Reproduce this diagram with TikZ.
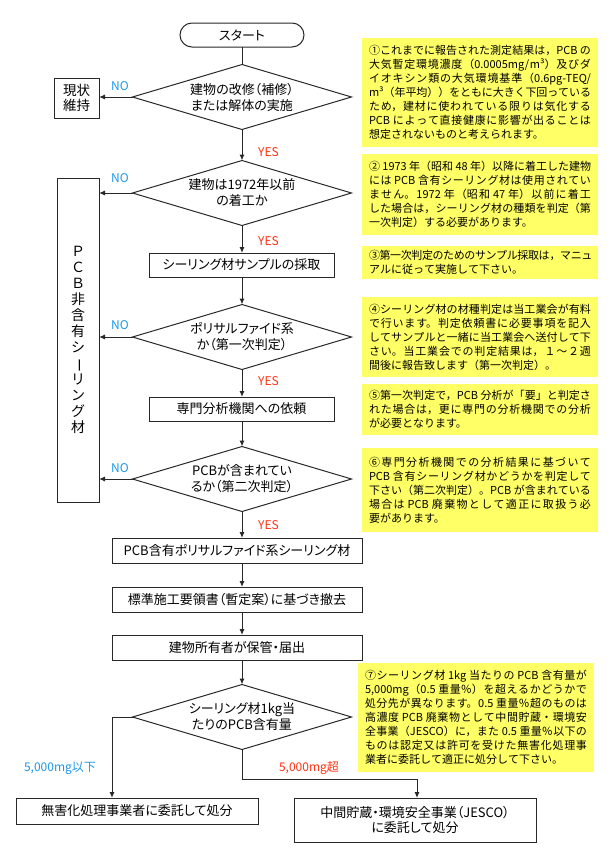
\documentclass[tikz,border=0pt]{standalone}
\usepackage{fontspec}
\usepackage{graphicx}
\setmainfont{Noto Sans CJK JP}
\newfontfamily\flowfont[RawFeature=+palt]{Noto Sans CJK JP}
\usetikzlibrary{arrows.meta,shapes.geometric}
\XeTeXlinebreaklocale "ja"
\XeTeXlinebreakskip=0pt plus 3pt minus 0.4pt
\XeTeXlinebreakpenalty=10000
\definecolor{noteY}{RGB}{255,255,102}
\definecolor{noC}{RGB}{30,150,230}
\definecolor{yesC}{RGB}{255,50,20}
\definecolor{lineC}{RGB}{40,40,40}
\tikzset{
  flow/.style={draw=lineC, line width=1pt, inner sep=0pt, outer sep=0pt, align=center,
    font=\flowfont\fontsize{13}{16}\selectfont},
  dia/.style={flow, diamond, minimum width=219pt, minimum height=65pt},
  dtext/.style={align=center, inner sep=0pt, font=\flowfont\fontsize{13}{16}\selectfont},
  note/.style={fill=noteY, inner sep=0pt, outer sep=0pt, minimum width=236pt,
    text width=222pt, align=justify, font=\fontsize{11}{14}\selectfont},
  nolab/.style={text=noC, font=\fontsize{12}{14}\selectfont, inner sep=0pt},
  yeslab/.style={text=yesC, font=\fontsize{12}{14}\selectfont, inner sep=0pt},
  conn/.style={draw=lineC, line width=1pt},
  arr/.style={conn, -{Latex[length=6pt,width=5pt]}}
}
\begin{document}
\begin{tikzpicture}[x=1pt,y=-1pt]
\useasboundingbox (0,0) rectangle (614,857);
% flow nodes
\node[flow, rounded corners=12pt, minimum width=124pt, minimum height=24pt] (start) at (242,35) {スタート};
\node[dia, label={[dtext]center:{建物の改修（補修）\\または解体の実施}}] (d1) at (242,97) {};
\node[flow, minimum width=45pt, minimum height=40pt, font=\flowfont\fontsize{13.5}{15}\selectfont] (keep) at (76.5,98) {現状\\維持};
\node[dia, label={[dtext]center:{建物は1972年以前\\の着工か}}] (d2) at (242,193) {};
\node[flow, minimum width=42pt, minimum height=324pt, font=\fontsize{14}{16}\selectfont] (nonpcb) at (78,340)
  {Ｐ\\Ｃ\\Ｂ\\非\\含\\有\\シ\\\rotatebox[origin=c]{-90}{ー}\\リ\\ン\\グ\\材};
\node[flow, minimum width=185pt, minimum height=24pt] (sample) at (241.5,265) {シーリング材サンプルの採取};
\node[dia, label={[dtext]center:{ポリサルファイド系\\か（第一次判定）}}] (d3) at (242,337) {};
\node[flow, minimum width=185pt, minimum height=24pt] (req) at (241.5,409) {専門分析機関への依頼};
\node[dia, label={[dtext]center:{PCBが含まれてい\\るか（第二次判定）}}] (d4) at (242,479) {};
\node[flow, minimum width=250pt, minimum height=25pt] (b1) at (237,550.5) {PCB含有ポリサルファイド系シーリング材};
\node[flow, minimum width=250pt, minimum height=25pt] (b2) at (237,599.5) {標準施工要領書（暫定案）に基づき撤去};
\node[flow, minimum width=250pt, minimum height=25pt] (b3) at (237,647.5) {建物所有者が保管・届出};
\node[dia, label={[dtext]center:{シーリング材1kg当\\たりのPCB含有量}}] (d5) at (242,717) {};
\node[flow, minimum width=242pt, minimum height=26pt] (f1) at (137,811) {無害化処理事業者に委託して処分};
\node[flow, minimum width=242pt, minimum height=44pt, font=\flowfont\fontsize{13}{15}\selectfont] (f2) at (415,820) {中間貯蔵・環境安全事業（JESCO）\\に委託して処分};
% connectors
\draw[conn] (start.south) -- (d1.north);
\draw[arr] (d1.south) -- (d2.north);
\draw[arr] (d1.west) -- (d1.west -| keep.east);
\draw[arr] (d2.west) -- (d2.west -| nonpcb.east);
\draw[arr] (d2.south) -- (sample.north -| d2.south);
\draw[arr] (sample.south -| d2.south) -- (d3.north);
\draw[arr] (d3.west) -- (d3.west -| nonpcb.east);
\draw[arr] (d3.south) -- (req.north -| d3.south);
\draw[arr] (req.south -| d3.south) -- (d4.north);
\draw[arr] (d4.west) -- (d4.west -| nonpcb.east);
\draw[arr] (d4.south) -- (b1.north -| d4.south);
\draw[arr] (b1.south -| d4.south) -- (b2.north -| d4.south);
\draw[arr] (b2.south -| d4.south) -- (b3.north -| d4.south);
\draw[arr] (b3.south -| d4.south) -- (d5.north);
\draw[arr] (d5.west) -| ([xshift=-25pt]f1.north);
\draw[arr] (d5.south) -- ++(0,30) -| ([xshift=2pt]f2.north);
% branch labels
\node[nolab] (no1) at (120,86) {NO};
\node[nolab] (no2) at (120,178) {NO};
\node[nolab] (no3) at (120,325) {NO};
\node[nolab] (no4) at (120,468) {NO};
\node[yeslab] (yes1) at (268.5,152) {YES};
\node[yeslab] (yes2) at (268.5,241) {YES};
\node[yeslab] (yes3) at (268.5,381) {YES};
\node[yeslab] (yes4) at (268.5,525) {YES};
\node[nolab] (low) at (60,768) {5,000mg以下};
\node[yeslab] (high) at (309,768) {5,000mg超};
% notes
\node[note, minimum height=109pt] (n1) at (480,92.5) {\noindent\hangindent=14pt\hangafter=1
①これまでに報告された測定結果は，PCB~の\linebreak
大気暫定環境濃度（0.0005mg/m³）及びダ\linebreak
イオキシン類の大気環境基準（0.6pg-TEQ/\linebreak
m³（年平均））をともに大きく下回っている\linebreak
ため，建材に使われている限りは気化する\linebreak
PCB~によって直接健康に影響が出ることは\linebreak
想定されないものと考えられます。};
\node[note, minimum height=81pt] (n2) at (480,194.5) {\noindent\hangindent=14pt\hangafter=1
②~1973~年（昭和~48~年）以降に着工した建物\linebreak
には~PCB~含有シーリング材は使用されてい\linebreak
ません。1972~年（昭和~47~年）以前に着工\linebreak
した場合は，シーリング材の種類を判定（第\linebreak
一次判定）する必要があります。};
\node[note, minimum height=33pt] (n3) at (480,262.5) {\noindent\hangindent=14pt\hangafter=1
③第一次判定のためのサンプル採取は，マニュ\linebreak
アルに従って実施して下さい。};
\node[note, minimum height=80pt] (n4) at (480,337) {\noindent\hangindent=14pt\hangafter=1
④シーリング材の材種判定は当工業会が有料\linebreak
で行います。判定依頼書に必要事項を記入\linebreak
してサンプルと一緒に当工業会へ送付して下\linebreak
さい。当工業会での判定結果は，１～２週\linebreak
間後に報告致します（第一次判定）。};
\node[note, minimum height=51pt] (n5) at (480,409.5) {\noindent\hangindent=14pt\hangafter=1
⑤第一次判定で，PCB~分析が「要」と判定さ\linebreak
れた場合は，更に専門の分析機関での分析\linebreak
が必要となります。};
\node[note, minimum height=84pt] (n6) at (480,490) {\noindent\hangindent=14pt\hangafter=1
⑥専門分析機関での分析結果に基づいて\linebreak
PCB~含有シーリング材かどうかを判定して\linebreak
下さい（第二次判定）。PCB~が含まれている\linebreak
場合は~PCB~廃棄物として適正に取扱う必\linebreak
要があります。};
\node[note, minimum height=109pt] (n7) at (476,717.5) {\noindent\hangindent=14pt\hangafter=1
⑦シーリング材~1kg~当たりの~PCB~含有量が\linebreak
5,000mg（0.5~重量％）を超えるかどうかで\linebreak
処分先が異なります。0.5~重量％超のものは\linebreak
高濃度~PCB~廃棄物として中間貯蔵・環境安\linebreak
全事業（JESCO）に，また~0.5~重量％以下の\linebreak
ものは認定又は許可を受けた無害化処理事\linebreak
業者に委託して適正に処分して下さい。};
\end{tikzpicture}
\end{document}
